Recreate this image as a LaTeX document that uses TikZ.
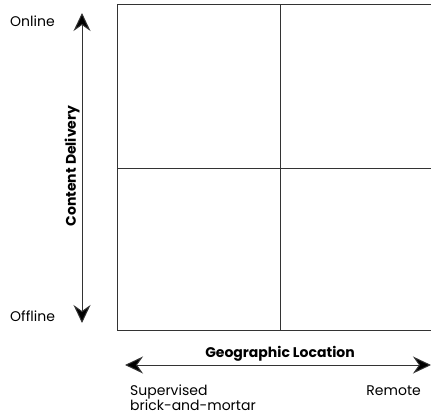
\documentclass[tikz,border=0pt]{standalone}
\usepackage{fontspec}
\setmainfont{Poppins}
\usetikzlibrary{arrows.meta}
\begin{document}
\begin{tikzpicture}[x=1pt,y=-1pt,
  grid/.style={line width=1pt, draw=black!80},
  axis/.style={line width=1pt, draw=black!80, {Stealth[length=18pt,width=17pt,inset=6pt,fill=black]}-{Stealth[length=18pt,width=17pt,inset=6pt,fill=black]}},
  lbl/.style={font=\fontsize{14}{15}\selectfont, inner sep=0pt},
  ttl/.style={font=\fontsize{14}{15}\selectfont\bfseries, inner sep=0pt}]
\useasboundingbox (0,0) rectangle (431,417);
\clip (0,0) rectangle (431,417);
% quadrant frame, running off the right edge
\coordinate (tl) at (117,5);
\coordinate (bl) at (117,330);
\coordinate (tr) at (440,5);
\coordinate (br) at (440,330);
\draw[grid] (tr) -- (tl) -- (bl) -- (br);
\coordinate (vt) at (280,5);
\coordinate (vb) at (280,330);
\coordinate (hl) at (117,168);
\coordinate (hr) at (440,168);
\draw[grid] (vt) -- (vb);
\draw[grid] (hl) -- (hr);
% axes
\coordinate (ytop) at (82,13);
\coordinate (ybot) at (82,323);
\draw[axis] (ybot) -- (ytop);
\coordinate (xl) at (125,365);
\coordinate (xr) at (431,365);
\draw[axis] (xl) -- (xr);
% labels
\node[lbl, anchor=west] (online) at (10,21) {Online};
\node[lbl, anchor=west] (offline) at (10,316) {Offline};
\node[ttl, rotate=90] (cd) at (72,166) {Content Delivery};
\node[ttl] (gl) at (280,354) {Geographic Location};
\node[lbl, anchor=west, align=left] (sup) at (130,398) {Supervised\\brick-and-mortar};
\node[lbl, anchor=east] (rem) at (421,391) {Remote};
\end{tikzpicture}
\end{document}
